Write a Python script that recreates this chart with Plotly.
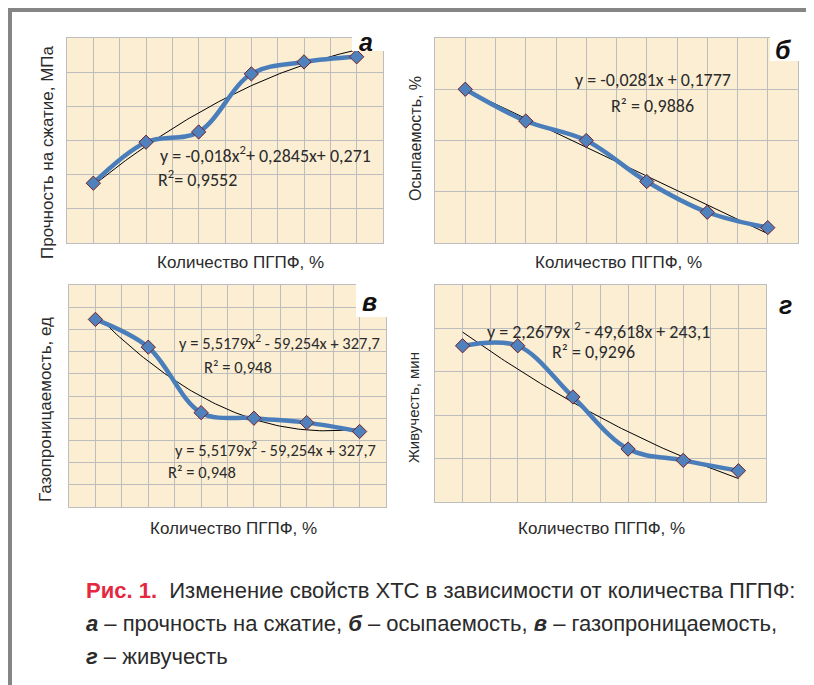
import numpy as np
import plotly.graph_objects as go

# ---------------- data ----------------
x_vals = [1, 2, 3, 4, 5, 6]

strength = [0.55, 0.79, 0.85, 1.19, 1.26, 1.29]          # а
shedding = [0.15, 0.119, 0.10, 0.06, 0.03, 0.015]        # б
gas_perm = [269, 244, 185, 180, 176, 168]                # в
survival = [180, 180, 121, 61, 48, 36]                   # г

# trendline coefficients (highest power first), as printed
fit_a = [-0.018, 0.2845, 0.271]
fit_b = [-0.0281, 0.1777]
fit_c = [5.5179, -59.254, 327.7]
fit_d = [2.2679, -49.618, 243.1]

eq_a = ["y = -0,018x<sup>2</sup>+ 0,2845x+ 0,271", "R<sup>2</sup>= 0,9552"]
eq_b = ["y = -0,0281x + 0,1777", "R² = 0,9886"]
eq_c = ["y = 5,5179x<sup>2</sup> - 59,254x + 327,7", "R² = 0,948"]
eq_d = ["y = 2,2679x <sup>2</sup> - 49,618x + 243,1", "R² = 0,9296"]

y_titles = ["Прочность на сжатие, МПа", "Осыпаемость, %", "Газопроницаемость, ед", "Живучесть, мин"]
x_title = "Количество ПГПФ, %"
panel_letters = ["а", "б", "в", "г"]

# ---------------- layout helpers ----------------
OFF = 8                      # page body margin
W, H = 814 - OFF, 685 - OFF
BG = "#fbeed3"
GRID = "#bdbdbd"
TXT = "#2b2b2b"
BLUE = "#4a7ebb"
MK_EDGE = "#7a1f24"


def px_x(p):
    return (p - OFF) / W


def px_y(p):
    return 1 - (p - OFF) / H


panels = [
    dict(box=(67, 383, 38, 243), yr=[0.2, 1.4], dt=0.2, data=strength, fit=fit_a),
    dict(box=(435, 798, 38, 243), yr=[0.0, 0.2], dt=0.05, data=shedding, fit=fit_b),
    dict(box=(69, 386, 285, 507), yr=[100, 300], dt=20, data=gas_perm, fit=fit_c),
    dict(box=(435, 766, 285, 502), yr=[0, 250], dt=50, data=survival, fit=fit_d),
]

fig = go.Figure()
layout = dict(
    width=W, height=H, margin=dict(l=0, r=0, t=0, b=0),
    paper_bgcolor="white", plot_bgcolor=BG, showlegend=False,
    font=dict(family="Liberation Sans, Arial, sans-serif", color=TXT),
)

xfine = np.linspace(x_vals[0], x_vals[-1], 100)
for i, p in enumerate(panels):
    n = "" if i == 0 else str(i + 1)
    xa, ya = "x" + n, "y" + n
    x0, x1, yt, yb = p["box"]
    layout["xaxis" + n] = dict(
        domain=[px_x(x0), px_x(x1)], range=[0.5, 6.5], tick0=0.5, dtick=0.5,
        showgrid=True, gridcolor=GRID, gridwidth=1, showticklabels=False, ticks="",
        zeroline=False, showline=True, linecolor=GRID, mirror=True, anchor=ya,
        fixedrange=True,
    )
    layout["yaxis" + n] = dict(
        domain=[px_y(yb), px_y(yt)], range=p["yr"], tick0=p["yr"][0], dtick=p["dt"],
        showgrid=True, gridcolor=GRID, gridwidth=1, showticklabels=False, ticks="",
        zeroline=False, showline=True, linecolor=GRID, mirror=True, anchor=xa,
        fixedrange=True,
    )
    fig.add_trace(go.Scatter(
        x=xfine, y=np.polyval(p["fit"], xfine), mode="lines",
        line=dict(color="black", width=1), xaxis=xa, yaxis=ya, hoverinfo="skip",
    ))
    fig.add_trace(go.Scatter(
        x=x_vals, y=p["data"], mode="lines+markers",
        line=dict(color=BLUE, width=4.5, shape="spline", smoothing=1.0),
        marker=dict(symbol="diamond", size=11, color="#4f81bd",
                    line=dict(color=MK_EDGE, width=1)),
        xaxis=xa, yaxis=ya,
    ))

fig.update_layout(**layout)

ann = []
shapes = []


def text(xp, yp, t, size, fam="Liberation Sans, Arial, sans-serif", angle=0,
         xanchor="center", color=TXT):
    ann.append(dict(x=px_x(xp), y=px_y(yp), xref="paper", yref="paper", text=t,
                    showarrow=False, textangle=angle, xanchor=xanchor, yanchor="middle",
                    font=dict(size=size, family=fam, color=color)))


# axis titles
text(47, 152, y_titles[0], 17, angle=-90)
text(240, 262, x_title, 17)
text(415, 139, y_titles[1], 16, angle=-90)
text(618, 263, x_title, 17)
text(45, 410, y_titles[2], 17, angle=-90)
text(233, 528, x_title, 17)
text(413, 408, y_titles[3], 15, angle=-90)
text(601, 528, x_title, 17)

# equations
EQF = "Carlito, Calibri, Lato, sans-serif"
text(158, 155, eq_a[0], 18, EQF, xanchor="left")
text(156, 178, eq_a[1], 18, EQF, xanchor="left")
text(653, 80, eq_b[0], 18, EQF)
text(652, 106, eq_b[1], 18, EQF)
text(177, 342, eq_c[0], 16.5, EQF, xanchor="left")
text(202, 367, eq_c[1], 16.5, EQF, xanchor="left")
text(173, 449, eq_c[0], 16.5, EQF, xanchor="left")
text(166, 472, eq_c[1], 16.5, EQF, xanchor="left")
text(485, 330, eq_d[0], 18, EQF, xanchor="left")
text(550, 352, eq_d[1], 18, EQF, xanchor="left")

# white label boxes
for (bx0, by0, bx1, by1) in [(352, 28, 384, 51), (770, 30, 800, 61), (356, 283, 388, 317)]:
    shapes.append(dict(type="rect", xref="paper", yref="paper",
                       x0=px_x(bx0), x1=px_x(bx1), y0=px_y(by1), y1=px_y(by0),
                       fillcolor="white", line=dict(width=0), layer="above"))

LBLF = "Liberation Sans, Arial, sans-serif"
for (lx, ly), L in zip([(366, 42), (783, 50), (369, 302), (785, 305)], panel_letters):
    text(lx, ly, "<b><i>" + L + "</i></b>", 25, LBLF, color="#111111")

# frame
shapes.append(dict(type="line", xref="paper", yref="paper", x0=px_x(7), x1=1,
                   y0=px_y(10), y1=px_y(10), line=dict(color="#858585", width=4)))
shapes.append(dict(type="line", xref="paper", yref="paper", x0=px_x(9.5), x1=px_x(9.5),
                   y0=px_y(8), y1=0, line=dict(color="#858585", width=5)))

# caption
CAPF = "Liberation Sans, Arial, sans-serif"
red = "#e4283f"
cap1 = ("<span style='color:%s'><b>Рис. 1.</b></span>  Изменение свойств ХТС в зависимости от количества ПГПФ:" % red)
cap2 = "<b><i>а</i></b> – прочность на сжатие, <b><i>б</i></b> – осыпаемость, <b><i>в</i></b> – газопроницаемость,"
cap3 = "<b><i>г</i></b> – живучесть"
text(84, 590, cap1, 22, CAPF, xanchor="left")
text(84, 623, cap2, 22, CAPF, xanchor="left")
text(84, 656, cap3, 22, CAPF, xanchor="left")

fig.update_layout(annotations=ann, shapes=shapes)
fig.write_html("out.html")
